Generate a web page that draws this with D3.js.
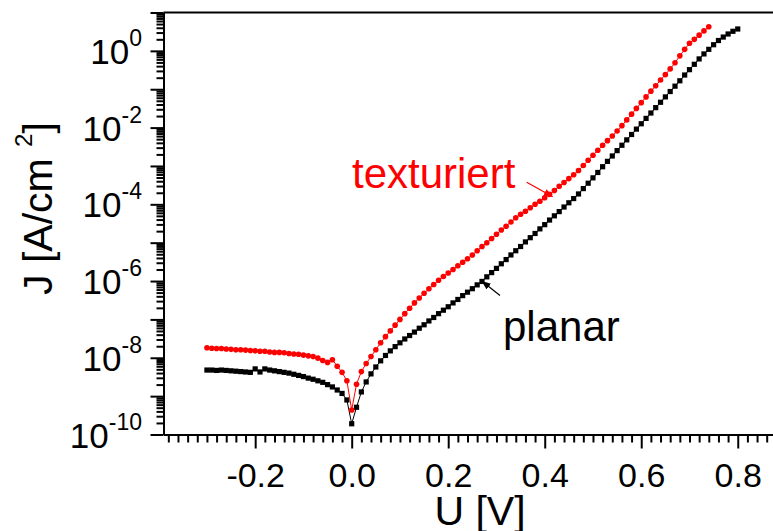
<!DOCTYPE html>
<html>
<head>
<meta charset="utf-8">
<script src="https://cdn.jsdelivr.net/npm/d3@7"></script>
<style>
  body { margin: 0; background: #fff; }
  svg { display: block; font-family: "Liberation Sans", Arial, sans-serif; }
</style>
</head>
<body>
<div id="container"></div>
<script>
// measured voltages [V]
const voltage = [
  -0.30,-0.29,-0.28,-0.27,-0.26,-0.25,-0.24,-0.23,-0.22,-0.21,
  -0.20,-0.19,-0.18,-0.17,-0.16,-0.15,-0.14,-0.13,-0.12,-0.11,
  -0.10,-0.09,-0.08,-0.07,-0.06,-0.05,-0.04,-0.03,-0.02,-0.01,
  0.00,0.01,0.02,0.03,0.04,0.05,0.06,0.07,0.08,0.09,
  0.10,0.11,0.12,0.13,0.14,0.15,0.16,0.17,0.18,0.19,
  0.20,0.21,0.22,0.23,0.24,0.25,0.26,0.27,0.28,0.29,
  0.30,0.31,0.32,0.33,0.34,0.35,0.36,0.37,0.38,0.39,
  0.40,0.41,0.42,0.43,0.44,0.45,0.46,0.47,0.48,0.49,
  0.50,0.51,0.52,0.53,0.54,0.55,0.56,0.57,0.58,0.59,
  0.60,0.61,0.62,0.63,0.64,0.65,0.66,0.67,0.68,0.69,
  0.70,0.71,0.72,0.73,0.74,0.75,0.76,0.77,0.78,0.79,0.80
];

// log10 of |J| [A/cm2]
const planarLogJ = [
  -8.32,-8.32,-8.33,-8.32,-8.33,-8.34,-8.35,-8.36,-8.37,-8.38,
  -8.29,-8.37,-8.29,-8.32,-8.34,-8.36,-8.38,-8.40,-8.43,-8.46,
  -8.49,-8.53,-8.56,-8.60,-8.64,-8.70,-8.76,-8.84,-8.93,-9.10,
  -9.72,-9.29,-8.89,-8.63,-8.42,-8.24,-8.08,-7.94,-7.82,-7.71,
  -7.61,-7.51,-7.42,-7.33,-7.23,-7.14,-7.04,-6.95,-6.85,-6.76,
  -6.67,-6.57,-6.48,-6.38,-6.29,-6.20,-6.10,-6.01,-5.89,-5.78,
  -5.67,-5.55,-5.44,-5.32,-5.21,-5.10,-4.98,-4.87,-4.76,-4.64,
  -4.53,-4.41,-4.30,-4.19,-4.07,-3.96,-3.85,-3.73,-3.59,-3.45,
  -3.31,-3.17,-3.02,-2.88,-2.74,-2.60,-2.46,-2.32,-2.18,-2.04,
  -1.90,-1.76,-1.62,-1.48,-1.34,-1.20,-1.06,-0.92,-0.78,-0.63,
  -0.49,-0.35,-0.21,-0.08,0.04,0.16,0.27,0.36,0.44,0.51,0.57
];

const texturiertLogJ = [
  -7.74,-7.75,-7.76,-7.76,-7.77,-7.78,-7.79,-7.79,-7.80,-7.81,
  -7.82,-7.83,-7.83,-7.85,-7.86,-7.86,-7.87,-7.89,-7.90,-7.91,
  -7.93,-7.95,-7.97,-8.01,-8.07,-8.12,-8.05,-8.22,-8.38,-8.60,
  -9.36,-8.69,-8.36,-8.15,-7.97,-7.79,-7.61,-7.45,-7.30,-7.15,
  -7.00,-6.85,-6.71,-6.57,-6.44,-6.32,-6.20,-6.09,-5.98,-5.88,
  -5.79,-5.70,-5.60,-5.51,-5.42,-5.32,-5.21,-5.10,-5.00,-4.89,
  -4.78,-4.67,-4.57,-4.46,-4.35,-4.26,-4.18,-4.09,-4.00,-3.92,
  -3.83,-3.74,-3.64,-3.53,-3.43,-3.33,-3.23,-3.12,-2.99,-2.85,
  -2.72,-2.59,-2.46,-2.34,-2.22,-2.09,-1.95,-1.80,-1.65,-1.50,
  -1.35,-1.20,-1.05,-0.91,-0.76,-0.62,-0.47,-0.31,-0.13,0.04,
  0.20,0.30,0.41,0.52,0.63
];

const xMajorTicks = [-0.2, 0.0, 0.2, 0.4, 0.6, 0.8];
const yLabelExponents = [0, -2, -4, -6, -8, -10];

const width = 773, height = 531;

const svg = d3.select("#container").append("svg")
    .attr("width", width)
    .attr("height", height);

const x = d3.scaleLinear().domain([-0.39, 0.90]).range([163.5, 786]);
const y = d3.scaleLog().domain([1e-10, 1e1]).range([434.5, 12.5]);

const planar = voltage.map((u, i) => ({u: u, j: Math.pow(10, planarLogJ[i])}));
const texturiert = texturiertLogJ.map((v, i) => ({u: voltage[i], j: Math.pow(10, v)}));

// ---- axes
// minor x ticks every 0.02
const xMinor = d3.range(-0.38, 0.89, 0.02)
    .map(v => Math.round(v * 100) / 100)
    .filter(v => xMajorTicks.indexOf(v) < 0);

svg.append("g")
    .attr("class", "x-minor")
    .attr("transform", "translate(0," + y.range()[0] + ")")
    .call(d3.axisBottom(x).tickValues(xMinor).tickSize(8).tickSizeOuter(0).tickFormat(""));

// plain hyphen for negative numbers, like the original
const fmt = d => d.toFixed(1);

const xAxis = svg.append("g")
    .attr("class", "x-major")
    .attr("transform", "translate(0," + y.range()[0] + ")")
    .call(d3.axisBottom(x).tickValues(xMajorTicks).tickSize(14).tickSizeOuter(0)
        .tickPadding(14).tickFormat(fmt));

xAxis.selectAll("text")
    .attr("font-size", 34)
    .attr("fill", "#000")
    .attr("font-family", "Liberation Sans, Arial, sans-serif");

// y ticks: each decade major, 2..9 minor
const yMajor = d3.range(-10, 2).map(e => Math.pow(10, e));
const yMinor = [];
d3.range(-10, 1).forEach(e => {
    for (let k = 2; k <= 9; k++) yMinor.push(k * Math.pow(10, e));
});

svg.append("g")
    .attr("class", "y-minor")
    .attr("transform", "translate(" + x.range()[0] + ",0)")
    .call(d3.axisLeft(y).tickValues(yMinor).tickSize(7).tickSizeOuter(0).tickFormat(""));

svg.append("g")
    .attr("class", "y-major")
    .attr("transform", "translate(" + x.range()[0] + ",0)")
    .call(d3.axisLeft(y).tickValues(yMajor).tickSize(13).tickSizeOuter(0).tickFormat(""));

svg.selectAll(".domain").attr("stroke-width", 2);
svg.selectAll(".tick line").attr("stroke-width", 2);

// top frame line
svg.append("line")
    .attr("x1", x.range()[0]).attr("x2", x.range()[1])
    .attr("y1", y.range()[1]).attr("y2", y.range()[1])
    .attr("stroke", "#000").attr("stroke-width", 2);

// y tick labels 10^n
const yLabels = svg.append("g").attr("class", "y-labels");
yLabelExponents.forEach(e => {
    const t = yLabels.append("text")
        .attr("x", 142)
        .attr("y", y(Math.pow(10, e)) + 13)
        .attr("text-anchor", "end")
        .attr("font-size", 35);
    t.append("tspan").text("10");
    t.append("tspan").attr("font-size", 23).attr("dy", -18).text(String(e));
});

// axis titles
svg.append("text")
    .attr("x", 480).attr("y", 525)
    .attr("text-anchor", "middle")
    .attr("font-size", 41)
    .text("U [V]");

const yTitle = svg.append("text")
    .attr("transform", "translate(52,295) rotate(-90)")
    .attr("font-size", 41);
yTitle.append("tspan").text("J [A/cm ");
yTitle.append("tspan").attr("font-size", 24).attr("dy", -20).text("2");
yTitle.append("tspan").attr("dy", 20).text("]");

// ---- series
const line = d3.line().x(d => x(d.u)).y(d => y(d.j));

svg.append("path").datum(planar)
    .attr("fill", "none").attr("stroke", "#000").attr("stroke-width", 1)
    .attr("d", line);

svg.append("g").selectAll("rect")
    .data(planar).enter().append("rect")
    .attr("x", d => x(d.u) - 2.6)
    .attr("y", d => y(d.j) - 2.6)
    .attr("width", 5.2).attr("height", 5.2)
    .attr("fill", "#000");

svg.append("path").datum(texturiert)
    .attr("fill", "none").attr("stroke", "#ff0000").attr("stroke-width", 1)
    .attr("d", line);

svg.append("g").selectAll("circle")
    .data(texturiert).enter().append("circle")
    .attr("cx", d => x(d.u))
    .attr("cy", d => y(d.j))
    .attr("r", 2.8)
    .attr("fill", "#ff0000");

// ---- labels with arrows
const defs = svg.append("defs");
function arrowHead(id, color) {
    defs.append("marker")
        .attr("id", id)
        .attr("viewBox", "0 0 10 10")
        .attr("refX", 10).attr("refY", 5)
        .attr("markerWidth", 9).attr("markerHeight", 9)
        .attr("markerUnits", "userSpaceOnUse")
        .attr("orient", "auto")
        .append("path")
        .attr("d", "M0,1 L10,5 L0,9 Z")
        .attr("fill", color);
}
arrowHead("arrRed", "#ff0000");
arrowHead("arrBlack", "#000");

svg.append("text")
    .attr("x", 352).attr("y", 188)
    .attr("font-size", 42)
    .attr("fill", "#ff0000")
    .text("texturiert");

svg.append("line")
    .attr("x1", 526.7).attr("y1", 182.3)
    .attr("x2", 552.7).attr("y2", 196.7)
    .attr("stroke", "#ff0000").attr("stroke-width", 1.2)
    .attr("marker-end", "url(#arrRed)");

svg.append("text")
    .attr("x", 503).attr("y", 341)
    .attr("font-size", 42)
    .attr("fill", "#000")
    .text("planar");

svg.append("line")
    .attr("x1", 500).attr("y1", 295.5)
    .attr("x2", 481.7).attr("y2", 281)
    .attr("stroke", "#000").attr("stroke-width", 1.2)
    .attr("marker-end", "url(#arrBlack)");
</script>
</body>
</html>
